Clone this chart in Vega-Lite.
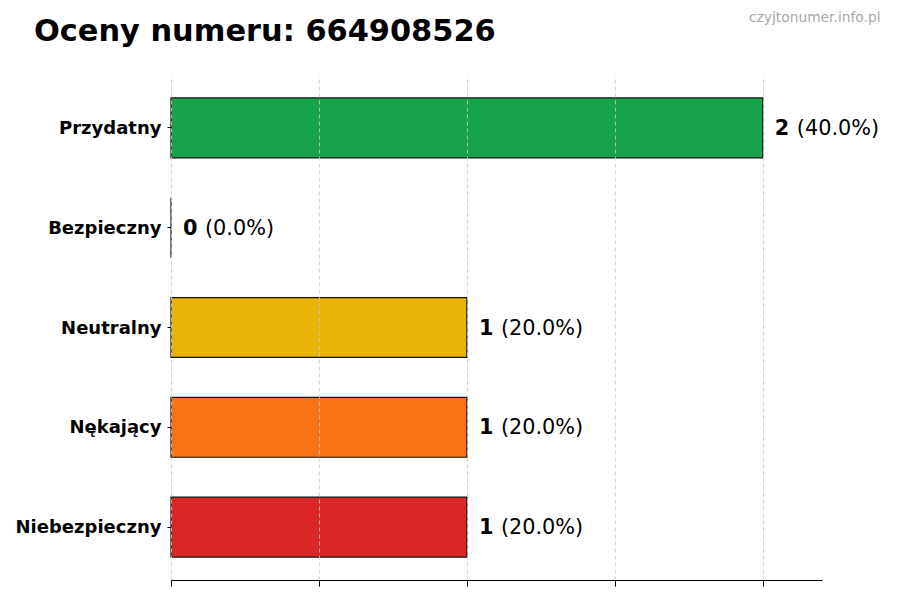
{
  "$schema": "https://vega.github.io/schema/vega-lite/v6.json",
  "autosize": "none",
  "width": 651,
  "height": 505,
  "padding": {"left": 171, "top": 75, "right": 78, "bottom": 20},
  "background": "white",
  "config": {
    "view": {"stroke": null},
    "font": "DejaVu Sans"
  },
  "title": {
    "text": "Oceny numeru: 664908526",
    "anchor": "start",
    "frame": "group",
    "dx": -137,
    "offset": -37,
    "fontSize": 30.4,
    "fontWeight": "bold",
    "color": "black",
    "font": "DejaVu Sans"
  },
  "data": {
    "values": [
      {"kategoria": "Przydatny", "liczba": 2, "procent": "(40.0%)", "kolor": "#16a34a"},
      {"kategoria": "Bezpieczny", "liczba": 0, "procent": "(0.0%)", "kolor": "#22c55e"},
      {"kategoria": "Neutralny", "liczba": 1, "procent": "(20.0%)", "kolor": "#eab308"},
      {"kategoria": "Nękający", "liczba": 1, "procent": "(20.0%)", "kolor": "#f97316"},
      {"kategoria": "Niebezpieczny", "liczba": 1, "procent": "(20.0%)", "kolor": "#dc2626"}
    ]
  },
  "encoding": {
    "y": {
      "field": "kategoria",
      "type": "nominal",
      "sort": null,
      "title": null,
      "scale": {"paddingInner": 0.4, "paddingOuter": 0.23},
      "axis": {
        "domain": false,
        "tickSize": 4,
        "tickColor": "black",
        "labelFontSize": 18,
        "labelFontWeight": "bold",
        "labelColor": "black",
        "labelPadding": 6,
        "labelOffset": 1,
        "labelFont": "DejaVu Sans"
      }
    }
  },
  "layer": [
    {
      "mark": {"type": "bar", "stroke": "#111111", "strokeWidth": 1.2},
      "encoding": {
        "x": {
          "field": "liczba",
          "type": "quantitative",
          "title": null,
          "scale": {"domain": [0, 2.2], "nice": false, "zero": true},
          "axis": {
            "orient": "bottom",
            "values": [0, 0.5, 1, 1.5, 2],
            "labels": false,
            "tickSize": 6,
            "tickColor": "black",
            "domainColor": "black",
            "domainWidth": 1.2,
            "grid": true,
            "gridDash": [4, 3],
            "gridColor": "#cccccc",
            "gridOpacity": 0.8,
            "zindex": 1
          }
        },
        "color": {"field": "kolor", "type": "nominal", "scale": null, "legend": null}
      }
    },
    {
      "mark": {"type": "text", "align": "left", "baseline": "middle", "dx": 12, "dy": 1, "fontSize": 20.8, "fontWeight": "bold", "color": "black", "font": "DejaVu Sans"},
      "encoding": {
        "x": {
          "field": "liczba",
          "type": "quantitative",
          "scale": {"domain": [0, 2.2], "nice": false},
          "title": "czyjtonumer.info.pl",
          "axis": {
            "orient": "top",
            "labels": false,
            "ticks": false,
            "domain": false,
            "grid": false,
            "titleFontSize": 13.8,
            "titleFontWeight": "normal",
            "titleColor": "#a8a8a8",
            "titleFont": "DejaVu Sans",
            "titleAlign": "right",
            "titleAnchor": null,
            "titleX": 709,
            "titleY": -58,
            "titleBaseline": "middle"
          }
        },
        "text": {"field": "liczba", "type": "quantitative"}
      }
    },
    {
      "mark": {"type": "text", "align": "left", "baseline": "middle", "dx": 34, "dy": 1, "fontSize": 20.8, "color": "black", "font": "DejaVu Sans"},
      "encoding": {
        "x": {"field": "liczba", "type": "quantitative", "axis": null},
        "text": {"field": "procent", "type": "nominal"}
      }
    }
  ],
  "resolve": {"axis": {"x": "independent"}}
}
